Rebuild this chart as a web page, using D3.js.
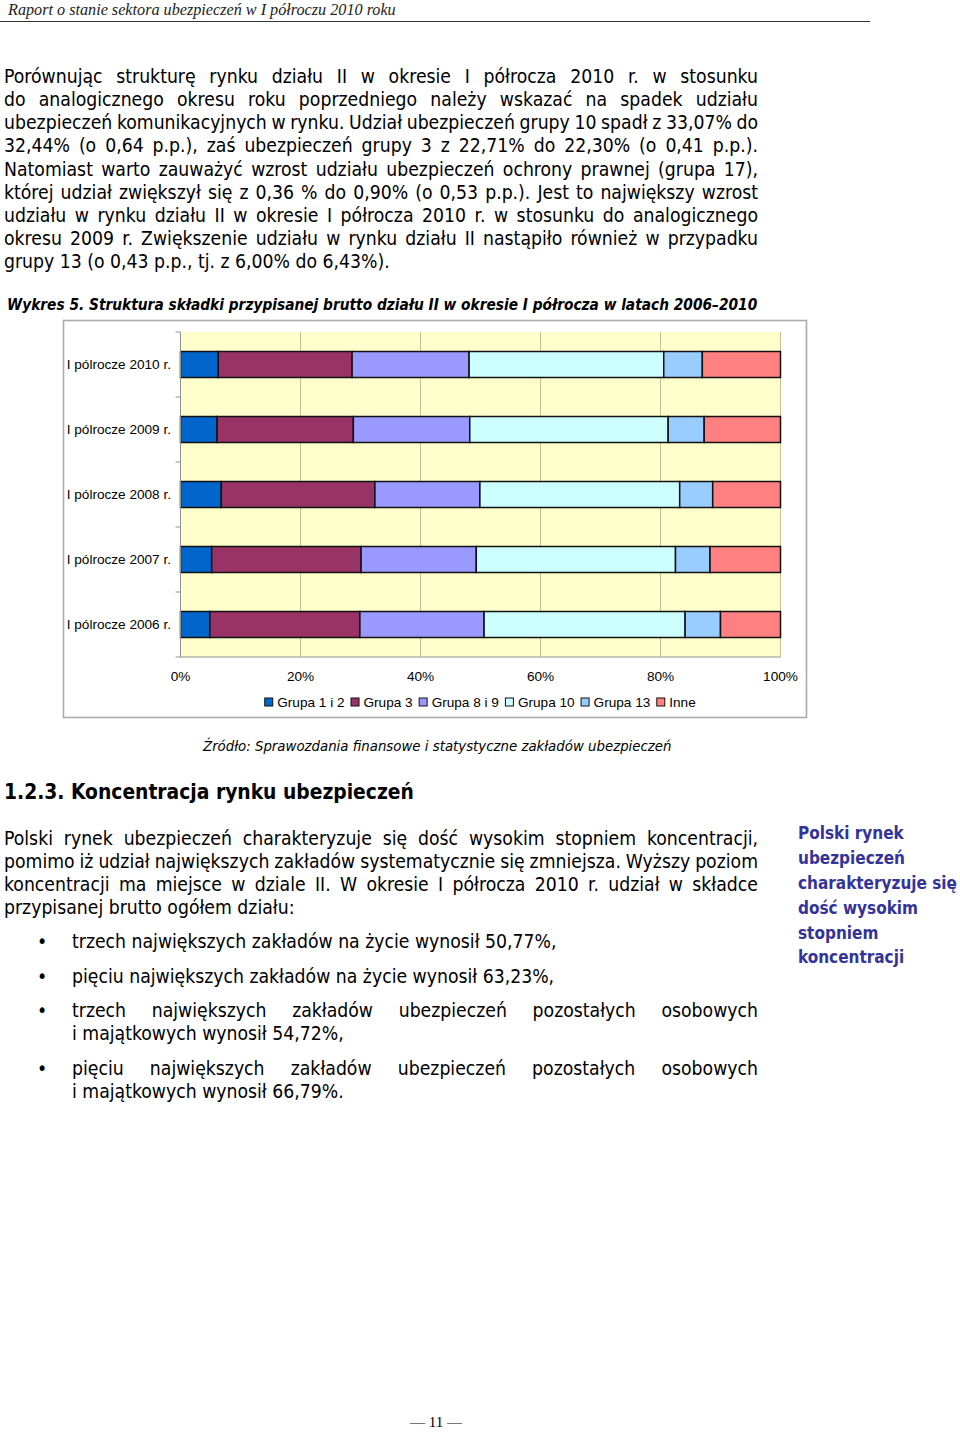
<!DOCTYPE html>
<html><head><meta charset="utf-8">
<script src="https://cdn.jsdelivr.net/npm/d3@7"></script>
<style>body{margin:0;background:#fff}</style>
</head><body><svg id="page" width="960" height="1432"></svg>
<script>
// ---------- DATA ----------
const categories = ["I pólrocze 2010 r.", "I pólrocze 2009 r.", "I pólrocze 2008 r.", "I pólrocze 2007 r.", "I pólrocze 2006 r."];
const seriesNames = ["Grupa 1 i 2", "Grupa 3", "Grupa 8 i 9", "Grupa 10", "Grupa 13", "Inne"];
const grupa1i2 = [6.3, 6.1, 6.8, 5.2, 4.9];
const grupa3   = [22.30, 22.71, 25.6, 24.9, 25.0];
const grupa8i9 = [19.5, 19.4, 17.5, 19.2, 20.7];
const grupa10  = [32.44, 33.07, 33.3, 33.2, 33.5];
const grupa13  = [6.43, 6.00, 5.5, 5.75, 5.9];
const inne     = [13.03, 12.72, 11.3, 11.75, 10.0];
const tickValues = [0, 20, 40, 60, 80, 100];
const tickLabels = ["0%", "20%", "40%", "60%", "80%", "100%"];
const seriesColors = ["#0066CC", "#993366", "#9999FF", "#CCFFFF", "#99CCFF", "#FF8080"];

// ---------- TEXT ----------
const headerText = "Raport o stanie sektora ubezpieczeń w I półroczu 2010 roku";
const para1 = [
  ["Porównując strukturę rynku działu II w okresie I półrocza 2010 r. w stosunku", true],
  ["do analogicznego okresu roku poprzedniego należy wskazać na spadek udziału", true],
  ["ubezpieczeń komunikacyjnych w rynku. Udział ubezpieczeń grupy 10 spadł z 33,07% do", true],
  ["32,44% (o 0,64 p.p.), zaś ubezpieczeń grupy 3 z 22,71% do 22,30% (o 0,41 p.p.).", true],
  ["Natomiast warto zauważyć wzrost udziału ubezpieczeń ochrony prawnej (grupa 17),", true],
  ["której udział zwiększył się z 0,36 % do 0,90% (o 0,53 p.p.). Jest to największy wzrost", true],
  ["udziału w rynku działu II w okresie I półrocza 2010 r. w stosunku do analogicznego", true],
  ["okresu 2009 r. Zwiększenie udziału w rynku działu II nastąpiło również w przypadku", true],
  ["grupy 13 (o 0,43 p.p., tj. z 6,00% do 6,43%).", false]
];
const titleText = "Wykres 5. Struktura składki przypisanej brutto działu II w okresie I półrocza w latach 2006–2010";
const sourceText = "Źródło: Sprawozdania finansowe i statystyczne zakładów ubezpieczeń";
const headingText = "1.2.3. Koncentracja rynku ubezpieczeń";
const para2 = [
  ["Polski rynek ubezpieczeń charakteryzuje się dość wysokim stopniem koncentracji,", true],
  ["pomimo iż udział największych zakładów systematycznie się zmniejsza. Wyższy poziom", true],
  ["koncentracji ma miejsce w dziale II. W okresie I półrocza 2010 r. udział w składce", true],
  ["przypisanej brutto ogółem działu:", false]
];
const bullets = [
  [["trzech największych zakładów na życie wynosił 50,77%,", false]],
  [["pięciu największych zakładów na życie wynosił 63,23%,", false]],
  [["trzech największych zakładów ubezpieczeń pozostałych osobowych", true], ["i majątkowych wynosił 54,72%,", false]],
  [["pięciu największych zakładów ubezpieczeń pozostałych osobowych", true], ["i majątkowych wynosił 66,79%.", false]]
];
const sidebar = ["Polski rynek", "ubezpieczeń", "charakteryzuje się", "dość wysokim", "stopniem", "koncentracji"];
const footerText = "— 11 —";

const svg = d3.select("#page");
svg.append("rect").attr("width", 960).attr("height", 1432).attr("fill", "#fff");

const SANS = "'DejaVu Sans Condensed', 'DejaVu Sans', sans-serif";
const ARIAL = "'Liberation Sans', Arial, sans-serif";
const chartFont = 13.6;

function measure(str, family, weight, style, size) {
  const t = svg.append("text").attr("x", -9999).attr("y", -9999)
    .style("font-family", family).style("font-weight", weight).style("font-style", style)
    .style("font-size", size + "px").text(str);
  const w = t.node().getComputedTextLength();
  t.remove();
  return w;
}
function fitSize(str, family, weight, style, target) {
  return 100 * target / measure(str, family, weight, style, 100);
}
function addLine(str, x0, x1, base, family, weight, style, size, justify, fill) {
  const t = svg.append("text").attr("x", x0).attr("y", base)
    .style("font-family", family).style("font-weight", weight).style("font-style", style)
    .style("font-size", size + "px").attr("fill", fill || "#000").text(str);
  if (justify) {
    const w = t.node().getComputedTextLength();
    const n = (str.match(/ /g) || []).length;
    if (n > 0) t.style("word-spacing", ((x1 - x0 - w) / n) + "px");
  }
  return t;
}

// header
const hSize = fitSize(headerText, "'Liberation Serif', serif", "normal", "italic", 388);
addLine(headerText, 8, 396, 15, "'Liberation Serif', serif", "normal", "italic", hSize, false, "#222");
svg.append("line").attr("x1", 0).attr("x2", 870).attr("y1", 21.5).attr("y2", 21.5).attr("stroke", "#333").attr("stroke-width", 1.2);

// body paragraph 1
const bodySize = fitSize(para1[8][0], SANS, "normal", "normal", 386);
const lineY1 = [77, 100, 123, 146, 170, 193, 216, 239, 262];
para1.forEach((l, i) => addLine(l[0], 4, 758, lineY1[i] + 6, SANS, "normal", "normal", bodySize, l[1]));

// title
const tSize = fitSize(titleText, SANS, "bold", "italic", 751);
addLine(titleText, 7, 758, 310, SANS, "bold", "italic", tSize, false);

// ---------- CHART ----------
const chart = svg.append("g");
chart.append("rect").attr("x", 63.5).attr("y", 320.5).attr("width", 743).attr("height", 397)
  .attr("fill", "#fff").attr("stroke", "#ABABAB").attr("stroke-width", 1.6);

const x = d3.scaleLinear().domain([0, 100]).range([180.5, 780.5]);
const y = d3.scaleBand().domain(categories).range([332, 657]).paddingInner(0.6).paddingOuter(0.3);

chart.append("rect").attr("x", x(0)).attr("y", 332).attr("width", x(100) - x(0)).attr("height", 325).attr("fill", "#FFFFCC");

chart.append("g").selectAll("line").data(tickValues.slice(1)).join("line")
  .attr("x1", d => x(d)).attr("x2", d => x(d)).attr("y1", 332).attr("y2", 657)
  .attr("stroke", "#C4C09A").attr("stroke-width", 1);

const table = categories.map((c, i) => ({
  cat: c,
  "Grupa 1 i 2": grupa1i2[i], "Grupa 3": grupa3[i], "Grupa 8 i 9": grupa8i9[i],
  "Grupa 10": grupa10[i], "Grupa 13": grupa13[i], "Inne": inne[i]
}));
const stacked = d3.stack().keys(seriesNames)(table);
const color = d3.scaleOrdinal().domain(seriesNames).range(seriesColors);

chart.append("g").selectAll("g").data(stacked).join("g")
  .attr("fill", d => color(d.key))
  .selectAll("rect").data(d => d).join("rect")
  .attr("x", d => x(d[0])).attr("y", d => y(d.data.cat))
  .attr("width", d => x(d[1]) - x(d[0])).attr("height", y.bandwidth())
  .attr("stroke", "#111").attr("stroke-width", 1.5);

// y axis
const yAxisG = chart.append("g");
yAxisG.append("line").attr("x1", x(0)).attr("x2", x(0)).attr("y1", 332).attr("y2", 657).attr("stroke", "#909090");
const bounds = d3.range(categories.length + 1).map(i => 332 + i * y.step());
yAxisG.selectAll("line.tk").data(bounds).join("line").attr("class", "tk")
  .attr("x1", x(0) - 5).attr("x2", x(0)).attr("y1", d => d).attr("y2", d => d).attr("stroke", "#909090");
yAxisG.selectAll("text").data(categories).join("text")
  .attr("x", 171).attr("y", d => y(d) + y.bandwidth() / 2).attr("dy", "0.35em")
  .attr("text-anchor", "end")
  .style("font-family", ARIAL).style("font-size", chartFont + "px").text(d => d);

// x axis
const xAxisG = chart.append("g");
xAxisG.append("line").attr("x1", x(0)).attr("x2", x(100)).attr("y1", 657).attr("y2", 657).attr("stroke", "#909090");
xAxisG.selectAll("text").data(tickValues).join("text")
  .attr("x", d => x(d)).attr("y", 680.5).attr("text-anchor", "middle")
  .style("font-family", ARIAL).style("font-size", chartFont + "px")
  .text((d, i) => tickLabels[i]);

// legend
const legend = chart.append("g");
let lx = 0;
const items = seriesNames.map(n => {
  const w = measure(n, ARIAL, "normal", "normal", chartFont);
  const it = { n, x: lx };
  lx += 13 + w + 6;
  return it;
});
const legW = lx - 6;
const legX0 = 480 - legW / 2;
items.forEach(it => {
  legend.append("rect").attr("x", legX0 + it.x + 0.5).attr("y", 698).attr("width", 8).attr("height", 8)
    .attr("fill", color(it.n)).attr("stroke", "#111").attr("stroke-width", 1);
  legend.append("text").attr("x", legX0 + it.x + 13).attr("y", 707)
    .style("font-family", ARIAL).style("font-size", chartFont + "px").text(it.n);
});

// source
const sSize = fitSize(sourceText, SANS, "normal", "italic", 469);
addLine(sourceText, 203, 672, 751, SANS, "normal", "italic", sSize, false);

// heading
const hdSize = fitSize(headingText, SANS, "bold", "normal", 410);
addLine(headingText, 4, 414, 799, SANS, "bold", "normal", hdSize, false);

// paragraph 2
const lineY2 = [839, 862, 885, 908];
para2.forEach((l, i) => addLine(l[0], 4, 758, lineY2[i] + 6, SANS, "normal", "normal", bodySize, l[1]));

// bullets
const bulletY = [[942], [977], [1011, 1034], [1069, 1092]];
bullets.forEach((b, i) => {
  svg.append("text").attr("x", 42).attr("y", bulletY[i][0] + 6).attr("text-anchor", "middle")
    .style("font-family", SANS).style("font-size", bodySize + "px").text("•");
  b.forEach((l, j) => addLine(l[0], 72, 758, bulletY[i][j] + 6, SANS, "normal", "normal", bodySize, l[1]));
});

// sidebar
const sbSize = fitSize("charakteryzuje się", SANS, "bold", "normal", 159);
const sbY = [833, 858, 883, 908, 933, 957];
sidebar.forEach((s, i) => addLine(s, 798, 958, sbY[i] + 6, SANS, "bold", "normal", sbSize, false, "#333399"));

// footer
svg.append("text").attr("x", 436).attr("y", 1427).attr("text-anchor", "middle")
  .style("font-family", "'Liberation Serif', serif").style("font-size", "15px").text(footerText);
</script>
</body></html>
